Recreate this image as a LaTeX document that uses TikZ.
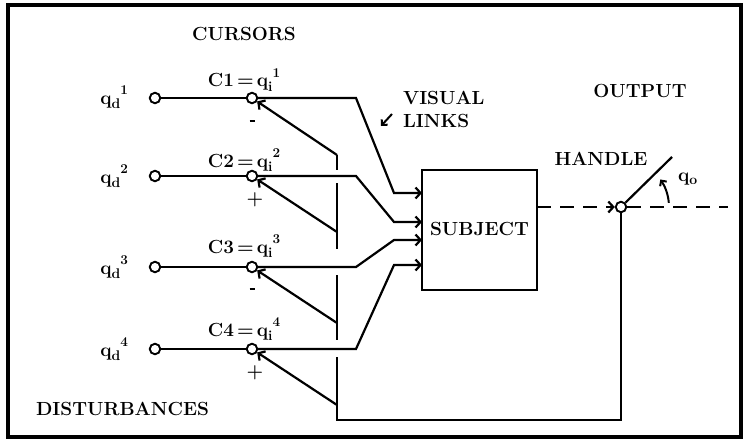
\documentclass[tikz,border=0pt]{standalone}
\usepackage{fontspec}
\usetikzlibrary{arrows.meta}
\newcommand{\qlab}[2]{q\raisebox{-0.25em}{\fontsize{14}{14}\selectfont #1}\raisebox{0.5em}{\fontsize{13.5}{13.5}\selectfont #2}}
\begin{document}
\begin{tikzpicture}[x=1pt,y=-1pt,line width=2.2pt,
  every node/.style={font=\fontsize{19}{22}\selectfont\bfseries,inner sep=0pt},
  junc/.style={circle,draw,line width=1.9pt,minimum size=10.5pt,inner sep=0pt},
  tip/.style={-{Straight Barb[length=5pt,width=11pt]}},
  smalltip/.style={-{Straight Barb[length=4pt,width=8pt]}},
  dashline/.style={dash pattern=on 14pt off 9pt}]
\useasboundingbox (0,0) rectangle (743,441);
\draw[line width=3.2pt] (8,5) rectangle (741,437);

% input and junction circles
\foreach \n/\y in {1/98,2/176,3/267,4/349}{
  \node[junc] (i\n) at (155,\y) {};
  \node[junc] (j\n) at (252,\y) {};
  \coordinate (k\n) at (356,\y);
}
\node[junc] (h) at (621,207) {};

% subject box
\node[draw,line width=2.2pt,minimum width=115pt,minimum height=120pt] (box) at (479.5,230) {};
\node[anchor=base] (subj) at (479.5,235) {SUBJECT};

% bend points and box inputs
\coordinate (m1) at (394,193); \coordinate (a1) at (422,193);
\coordinate (m2) at (394,222); \coordinate (a2) at (422,222);
\coordinate (m3) at (394,240); \coordinate (a3) at (422,240);
\coordinate (m4) at (394,265); \coordinate (a4) at (422,265);

\foreach \n in {1,2,3,4}{
  \draw (i\n) -- (j\n);
  \draw[tip] (j\n) -- (k\n) -- (m\n) -- (a\n);
}

% feedback bus
\coordinate (b1) at (337,155);
\coordinate (b2) at (337,232);
\coordinate (b3) at (337,323);
\coordinate (b4) at (337,405);
\foreach \n in {1,2,3,4}{ \draw[tip] (b\n) -- (j\n); }
\coordinate (g1a) at (337,170); \coordinate (g1b) at (337,183);
\coordinate (g2a) at (337,249); \coordinate (g2b) at (337,275);
\coordinate (g3a) at (337,340); \coordinate (g3b) at (337,357);
\coordinate (bb) at (337,420); \coordinate (hb) at (621,420);
\draw (b1) -- (g1a);
\draw (g1b) -- (g2a);
\draw (g2b) -- (g3a);
\draw (g3b) -- (bb) -- (hb) -- (h);

% output side
\coordinate (bx) at (537,207);
\coordinate (oend) at (728,207);
\coordinate (hend) at (672,157);
\draw[dashline,tip] (bx) -- (h);
\draw[dashline] (h) -- (oend);
\draw (h) -- (hend);
\draw[smalltip,line width=2pt] ([shift={(-5:48)}]h.center) arc[start angle=-5,end angle=-35,radius=48];

% labels
\node[anchor=base] (cur) at (244,41) {CURSORS};
\node[anchor=base east] (qd1) at (129,104) {\qlab{d}{1}};
\node[anchor=base east] (qd2) at (129,183) {\qlab{d}{2}};
\node[anchor=base east] (qd3) at (129,274) {\qlab{d}{3}};
\node[anchor=base east] (qd4) at (129,356) {\qlab{d}{4}};
\node[anchor=base] (c1) at (244,87) {C1\,=\,\qlab{i}{1}};
\node[anchor=base] (c2) at (244,167) {C2\,=\,\qlab{i}{2}};
\node[anchor=base] (c3) at (244,253) {C3\,=\,\qlab{i}{3}};
\node[anchor=base] (c4) at (244,336) {C4\,=\,\qlab{i}{4}};
\node (s1) at (252,121) {\rule{5pt}{2.2pt}};
\node (s2) at (255,200) {+};
\node (s3) at (252,289) {\rule{5pt}{2.2pt}};
\node (s4) at (255,373) {+};
\node[anchor=base west] (vis) at (402,105) {VISUAL};
\node[anchor=base west] (lnk) at (402,128) {LINKS};
\coordinate (la) at (392,114);
\coordinate (lb) at (381,126);
\draw[smalltip,line width=2pt] (la) -- (lb);
\node[anchor=base] (out) at (640,98) {OUTPUT};
\node[anchor=base] (hdl) at (601,165) {HANDLE};
\node[anchor=base west] (qo) at (677,181) {q\raisebox{-0.2em}{\fontsize{14}{14}\selectfont o}};
\node[anchor=base west] (dist) at (35,415) {DISTURBANCES};
\end{tikzpicture}
\end{document}
